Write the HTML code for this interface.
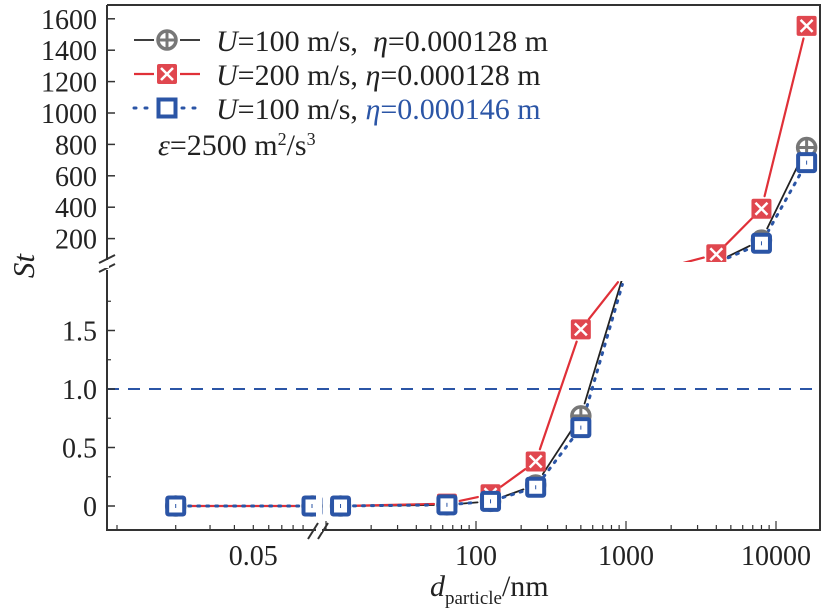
<!DOCTYPE html>
<html><head><meta charset="utf-8">
<style>
html,body{margin:0;padding:0;background:#fff;}
svg{display:block;font-family:"Liberation Serif",serif;}
</style></head>
<body>
<svg id="chart" width="826" height="614" viewBox="0 0 826 614" xmlns="http://www.w3.org/2000/svg">
<defs>
<clipPath id="cLL"><rect x="107" y="281" width="209" height="249"/></clipPath>
<clipPath id="cLR"><rect x="322" y="281" width="498" height="249"/></clipPath>
<clipPath id="cUL"><rect x="107" y="5" width="209" height="257"/></clipPath>
<clipPath id="cUR"><rect x="322" y="5" width="498" height="257"/></clipPath>
</defs>
<g id="plot"></g>
<g id="axes"></g>
</svg>
<script>
const xValues = [0.02, 0.1, 12.5, 64, 125, 250, 500, 1000, 2000, 4000, 8000, 16000];
const blackU100 = [0, 0, 0, 0.01, 0.04, 0.18, 0.77, 2.05, 10, 50, 190, 780];
const redU200 = [0, 0, 0, 0.02, 0.1, 0.38, 1.51, 2.0, 25, 100, 390, 1555];
const blueEta146 = [0, 0, 0, 0.01, 0.04, 0.16, 0.67, 2.0, 9, 45, 170, 684];
const lowerTicks = [0, 0.5, 1.0, 1.5];
const lowerTickLabels = ["0", "0.5", "1.0", "1.5"];
const upperTicks = [200, 400, 600, 800, 1000, 1200, 1400, 1600];
const xTickValues = [0.05, 100, 1000, 10000];
const xTickLabels = ["0.05", "100", "1000", "10000"];

const NS = "http://www.w3.org/2000/svg";
function el(tag, attrs, parent){const e=document.createElementNS(NS,tag);for(const k in attrs)e.setAttribute(k,attrs[k]);parent.appendChild(e);return e;}
function xScale(v){ if(v<=0.1) return 117+195*Math.log10(v/0.01); return 476+150*(Math.log10(v)-2); }
function yLow(v){ return 506-117*v; }
function yUp(v){ return 270-0.157*v; }

const plot=document.getElementById('plot');
const axes=document.getElementById('axes');

function marker(type,x,y,g){
  const m=el('g',{},g);
  if(type==='black'){
    el('circle',{cx:x,cy:y,r:9,fill:'#fff',stroke:'#777',"stroke-width":3.5},m);
    el('line',{x1:x-9,y1:y,x2:x+9,y2:y,stroke:'#777',"stroke-width":3},m);
    el('line',{x1:x,y1:y-9,x2:x,y2:y+9,stroke:'#777',"stroke-width":3},m);
  }else if(type==='red'){
    el('rect',{x:x-10,y:y-10,width:20,height:20,rx:2,fill:'#e0474f'},m);
    el('path',{d:`M${x-6} ${y-6}L${x+6} ${y+6}M${x+6} ${y-6}L${x-6} ${y+6}`,stroke:'#fff',"stroke-width":2.5},m);
  }else{
    el('rect',{x:x-8.5,y:y-8.5,width:17,height:17,rx:1.5,fill:'#fff',stroke:'#2b55a6',"stroke-width":4},m);
    el('line',{x1:x,y1:y-2,x2:x,y2:y+2,stroke:'#2b55a6',"stroke-width":1},m);
  }
  return m;
}

const series=[
 {name:'black',vals:blackU100,color:'#222',dash:'',w:1.8},
 {name:'red',vals:redU200,color:'#e03038',dash:'',w:2.2},
 {name:'blue',vals:blueEta146,color:'#2b55a6',dash:'2 7',w:3},
];
const panels=[['cLL',yLow,'low'],['cLR',yLow,'low'],['cUL',yUp,'up'],['cUR',yUp,'up']];
series.forEach(s=>{
  panels.forEach(([clip,ys])=>{
    const g=el('g',{"clip-path":`url(#${clip})`},plot);
    
    
    for(let i=0;i<xValues.length-1;i++){
      if(xValues[i]<=0.1 && xValues[i+1]>0.1) continue;
      const x1=xScale(xValues[i]),x2=xScale(xValues[i+1]),y1=ys(s.vals[i]),y2=ys(s.vals[i+1]);
      const dx=x2-x1,dy=y2-y1,L=Math.hypot(dx,dy),gap=Math.min(13,L/2-1);
      const ux=dx/L,uy=dy/L;
      const ln=el('line',{x1:x1+ux*gap,y1:y1+uy*gap,x2:x2-ux*gap,y2:y2-uy*gap,stroke:s.color,"stroke-width":s.w,"stroke-linecap":"round"},g);
      if(s.dash) ln.setAttribute('stroke-dasharray',s.dash);
    }
  });
});
series.forEach(s=>{
  panels.forEach(([clip,ys,kind])=>{
    const g=el('g',{"clip-path":`url(#${clip})`},plot);
    
    
    xValues.forEach((xv,i)=>{
      const v=s.vals[i];
      if(kind==='low' && v>1.9) return;
      if(kind==='up' && v<80) return;
      const m=marker(s.name,xScale(xv),ys(v),g);
      
      
    });
  });
});
const ref=el('line',{x1:107,y1:yLow(1),x2:820,y2:yLow(1),stroke:'#2b55a6',"stroke-width":2,"stroke-dasharray":"12 9"},plot);



const A={stroke:'#333',"stroke-width":2,fill:'none'};
el('path',Object.assign({d:'M107 5H820V530H322'},A),axes);
el('path',Object.assign({d:'M316 530H107V270'},A),axes);
el('path',Object.assign({d:'M107 260V5'},A),axes);
el('path',{d:'M99 263L115 255M99 272L115 264',stroke:'#333',"stroke-width":2},axes);
el('path',{d:'M308 539L318 523M318 539L328 523',stroke:'#333',"stroke-width":2},axes);
el('rect',{x:316,y:528,width:6,height:4,fill:'#fff'},axes);
el('rect',{x:105,y:262,width:4,height:6,fill:'#fff'},axes);
lowerTicks.forEach((v,i)=>{
  const y=yLow(v);
  el('line',{x1:107,y1:y,x2:115,y2:y,stroke:'#333',"stroke-width":1.5},axes);
  const t=el('text',{x:97,y:y+10,"text-anchor":"end","font-size":28,fill:'#222'},axes);
  t.textContent=lowerTickLabels[i];
  
  
});
[0.25,0.75,1.25,1.75].forEach(v=>el('line',{x1:107,y1:yLow(v),x2:111,y2:yLow(v),stroke:'#333',"stroke-width":1.2},axes));
upperTicks.forEach(v=>{
  const y=yUp(v);
  el('line',{x1:107,y1:y,x2:115,y2:y,stroke:'#333',"stroke-width":1.5},axes);
  const t=el('text',{x:97,y:y+10,"text-anchor":"end","font-size":28,fill:'#222'},axes);
  t.textContent=String(v);
  
  
});
for(let m=1;m<=9;m++){ const x=xScale(0.01*m); if(x>=107&&x<=314) el('line',{x1:x,y1:530,x2:x,y2:525,stroke:'#333',"stroke-width":1.2},axes);}
[10,100,1000,10000].forEach(d=>{for(let m=1;m<=9;m++){const x=xScale(d*m); if(x>=324&&x<=818) el('line',{x1:x,y1:530,x2:x,y2:m===1?521:525,stroke:'#333',"stroke-width":1.2},axes);}});
xTickValues.forEach((v,i)=>{
  const t=el('text',{x:xScale(v),y:565,"text-anchor":"middle","font-size":28,fill:'#222'},axes);
  t.textContent=xTickLabels[i];
  
  
});
</script>
<svg style="position:absolute;left:0;top:0" width="826" height="614" xmlns="http://www.w3.org/2000/svg">
<text x="34" y="266" font-size="31" font-style="italic" fill="#222" transform="rotate(-90 34 266)" text-anchor="middle" font-family="Liberation Serif">St</text>
<text x="430" y="596" font-size="30" fill="#222" font-family="Liberation Serif"><tspan font-style="italic">d</tspan><tspan font-size="19" dy="8">particle</tspan><tspan dy="-8">/nm</tspan></text>
<g font-family="Liberation Serif">
<line x1="134" y1="40" x2="154" y2="40" stroke="#222" stroke-width="1.8"/><line x1="180" y1="40" x2="200" y2="40" stroke="#222" stroke-width="1.8"/>
<circle cx="167" cy="40" r="9" fill="#fff" stroke="#777" stroke-width="3.5"/><line x1="158" y1="40" x2="176" y2="40" stroke="#777" stroke-width="3"/><line x1="167" y1="31" x2="167" y2="49" stroke="#777" stroke-width="3"/>
<text x="216" y="51" font-size="30" fill="#222" xml:space="preserve"><tspan font-style="italic">U</tspan>=100 m/s,  <tspan font-style="italic">η</tspan>=0.000128 m</text></g>
<g font-family="Liberation Serif">
<line x1="134" y1="74" x2="154" y2="74" stroke="#e03038" stroke-width="2.2"/><line x1="180" y1="74" x2="200" y2="74" stroke="#e03038" stroke-width="2.2"/>
<rect x="157" y="64" width="20" height="20" rx="2" fill="#e0474f"/><path d="M161 68L173 80M173 68L161 80" stroke="#fff" stroke-width="2.5"/>
<text x="216" y="85" font-size="30" fill="#222"><tspan font-style="italic">U</tspan>=200 m/s, <tspan font-style="italic">η</tspan>=0.000128 m</text></g>
<g font-family="Liberation Serif">
<line x1="134" y1="108" x2="154" y2="108" stroke="#2b55a6" stroke-width="3" stroke-dasharray="2 9" stroke-linecap="round"/><line x1="182" y1="108" x2="200" y2="108" stroke="#2b55a6" stroke-width="3" stroke-dasharray="2 9" stroke-linecap="round"/>
<rect x="158.5" y="99.5" width="17" height="17" fill="#fff" stroke="#2b55a6" stroke-width="4"/>
<text x="216" y="119" font-size="30" fill="#222"><tspan font-style="italic">U</tspan>=100 m/s, <tspan fill="#2b55a6"><tspan font-style="italic">η</tspan>=0.000146 m</tspan></text></g>
<text x="158" y="155" font-size="30" fill="#222" font-family="Liberation Serif"><tspan font-style="italic">ε</tspan>=2500 m<tspan font-size="18" dy="-10">2</tspan><tspan dy="10">/s</tspan><tspan font-size="18" dy="-10">3</tspan></text>
</svg>
</body></html>
